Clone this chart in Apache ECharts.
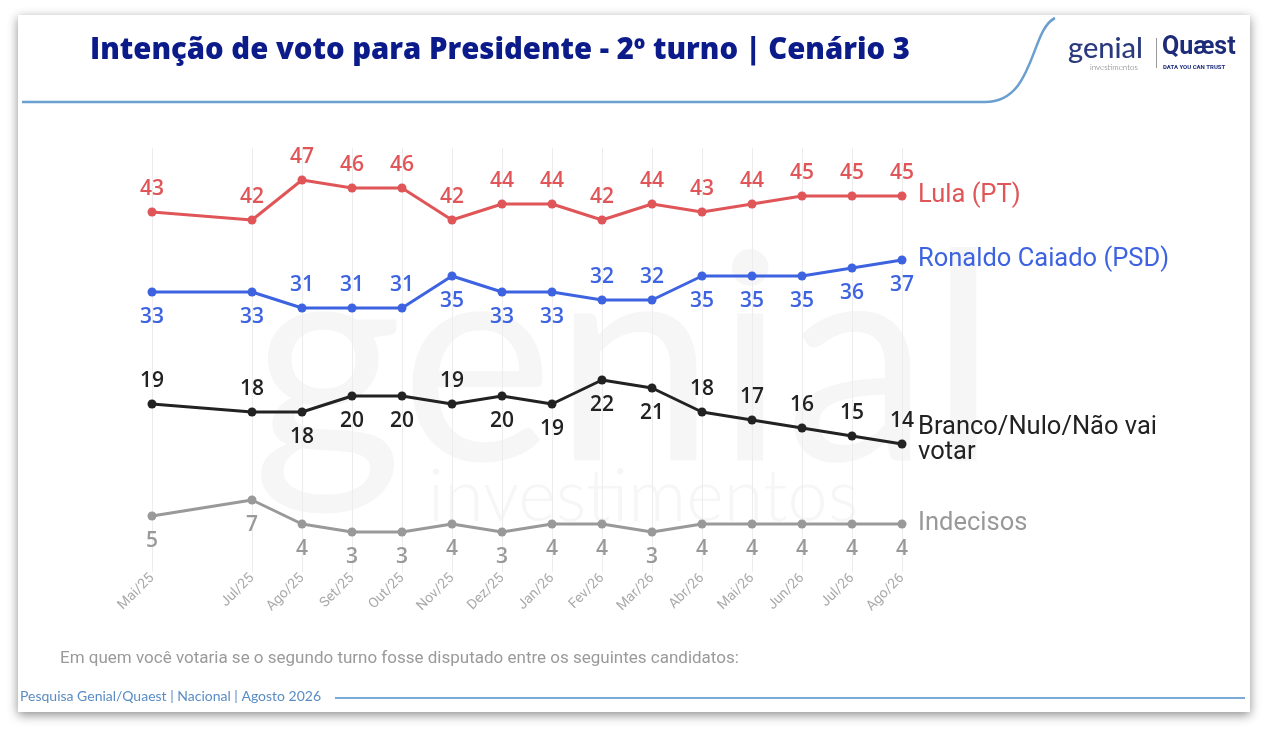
<!DOCTYPE html>
<html><head><meta charset="utf-8">
<script src="https://cdn.jsdelivr.net/npm/echarts@6/dist/echarts.min.js"></script>
<style>html,body{margin:0;padding:0;background:#fff}#c{width:1266px;height:732px}</style>
</head><body><div id="c"></div>
<script>
const categories = ['Mai/25','Jul/25','Ago/25','Set/25','Out/25','Nov/25','Dez/25','Jan/26','Fev/26','Mar/26','Abr/26','Mai/26','Jun/26','Jul/26','Ago/26'];
const lula = [43,42,47,46,46,42,44,44,42,44,43,44,45,45,45];
const caiado = [33,33,31,31,31,35,33,33,32,32,35,35,35,36,37];
const branco = [19,18,18,20,20,19,20,19,22,21,18,17,16,15,14];
const indecisos = [5,7,4,3,3,4,3,4,4,3,4,4,4,4,4];
const seriesNames = ['Lula (PT)','Ronaldo Caiado (PSD)','Branco/Nulo/Não vai\nvotar','Indecisos'];

// label side per point (t = above, b = below)
const lulaSide = 'ttttttttttttttt';
const caiadoSide = 'bbtttbbbttbbbbb';
const brancoSide = 'ttbbbtbbbbttttt';
const indecisosSide = 'bbbbbbbbbbbbbbb';

const monthAbbr = {Jan:1,Fev:2,Mar:3,Abr:4,Mai:5,Jun:6,Jul:7,Ago:8,Set:9,Out:10,Nov:11,Dez:12};
function monthIndex(c){const [m,y]=c.split('/');return (2000+ +y)*12+monthAbbr[m];}
const base = monthIndex(categories[0]);
const xs = categories.map(c=>monthIndex(c)-base);

const chart = echarts.init(document.getElementById('c'));
const FONT = 'Roboto';
const NUMFONT = 'Open Sans';

function mkSeries(name, vals, sides, color, endOffset){
  return {
    type:'line', name, z:5,
    data: vals.map((v,i)=>({value:[xs[i],v],label:{position: sides[i]==='t'?'top':'bottom', distance: sides[i]==='t'?8:10}})),
    symbol:'circle', symbolSize:9,
    lineStyle:{color, width:3},
    itemStyle:{color},
    label:{show:true, color, fontFamily:NUMFONT, fontSize:21, fontWeight:600,
      formatter:p=>p.value[1]},
    endLabel:{show:true, formatter:()=>name, color, fontFamily:FONT, fontSize:25.5, fontWeight:400,
      distance:16, offset:endOffset||[0,0], lineHeight:25},
    animation:false
  };
}

const option = {
  animation:false,
  backgroundColor:'#ffffff',
  graphic:[
    {type:'rect', z:-20, shape:{x:18,y:15,width:1232,height:697},
      style:{fill:'#fff', shadowBlur:10, shadowColor:'rgba(0,0,0,0.45)', shadowOffsetY:3}},
    {type:'text', z:-10, x:252, y:222, style:{text:'genial', font:'290px Lato', fill:'#f6f6f6'}},
    {type:'text', z:-10, x:428, y:462, style:{text:'investimentos', font:'300 72px Lato', fill:'#f6f6f6'}},
    {type:'text', x:90, y:36, style:{text:'Intenção de voto para Presidente - 2º turno | Cenário 3',
      font:'800 29.3px "Open Sans"', fill:'#0b1b8a'}},
    {type:'line', shape:{x1:22,y1:102,x2:985,y2:102}, style:{stroke:'#6a9fcf', lineWidth:2.5}},
    {type:'bezierCurve', shape:{x1:985,y1:102,cpx1:1035,cpy1:102,cpx2:1030,cpy2:30,x2:1055,y2:18},
      style:{fill:'none', stroke:'#6a9fcf', lineWidth:2.5}},
    {type:'text', x:1068, y:34, style:{text:'genial', font:'500 29px Lato', fill:'#2a3a7c'}},
    {type:'text', x:1090, y:63, style:{text:'investimentos', font:'300 8px Lato', fill:'#666'}},
    {type:'rect', shape:{x:1156,y:38,width:1,height:30}, style:{fill:'#999'}},
    {type:'text', x:1162, y:35, style:{text:'Quæst', font:'bold 25px Roboto', fill:'#1d2b78'}},
    {type:'text', x:1163, y:64, style:{text:'DATA YOU CAN TRUST', font:'bold 6px Roboto', fill:'#1d2b78'}},
    {type:'text', x:60, y:650, style:{text:'Em quem você votaria se o segundo turno fosse disputado entre os seguintes candidatos:',
      font:'17px Roboto', fill:'#9a9a9a'}},
    {type:'text', x:20, y:689, style:{text:'Pesquisa Genial/Quaest | Nacional | Agosto 2026',
      font:'14px Lato', fill:'#5a8cc4'}},
    {type:'rect', shape:{x:335,y:697,width:910,height:2}, style:{fill:'#7aaad6'}}
  ],
  grid:{left:152, right:364, top:148, bottom:160, containLabel:false},
  xAxis:{type:'value', min:0, max:xs[xs.length-1], interval:1,
    axisLine:{show:false}, axisTick:{show:false}, splitLine:{show:false},
    axisLabel:{customValues:xs, rotate:45, margin:4, color:'#aaaaaa', fontFamily:FONT, fontSize:14,
      formatter:v=>{const i=xs.indexOf(v);return i>=0?categories[i]:'';}}},
  yAxis:{type:'value', min:-2, max:51, show:false, splitLine:{show:false}},
  series:[
    {type:'line', data:[], silent:true, z:1,
      markLine:{silent:true, symbol:'none', label:{show:false},
        lineStyle:{color:'#ececec', type:'solid', width:1},
        data: xs.map(x=>({xAxis:x}))}},
    mkSeries(seriesNames[0], lula, lulaSide, '#e05558'),
    mkSeries(seriesNames[1], caiado, caiadoSide, '#3d63e0'),
    mkSeries(seriesNames[2], branco, brancoSide, '#222222', [0,-4]),
    mkSeries(seriesNames[3], indecisos, indecisosSide, '#999999')
  ]
};
chart.setOption(option);
</script></body></html>
